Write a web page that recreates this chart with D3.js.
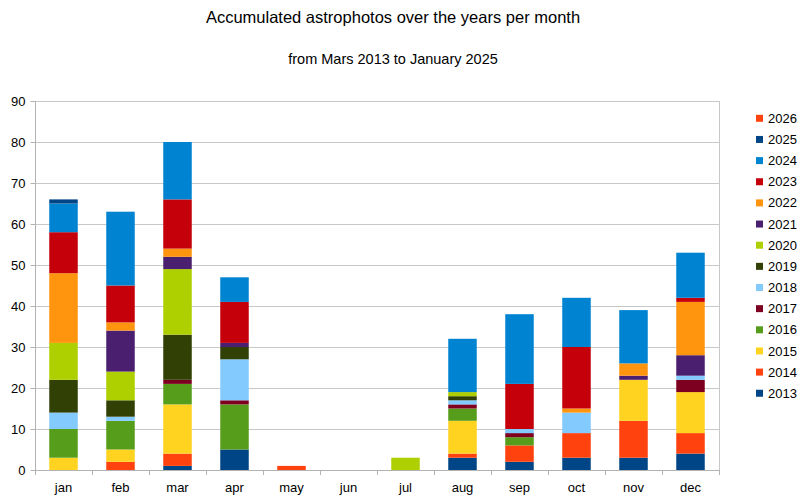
<!DOCTYPE html>
<html><head><meta charset="utf-8">
<script src="https://cdn.jsdelivr.net/npm/d3@7"></script>
<style>body{margin:0;background:#fff}svg{display:block;font-family:"Liberation Sans",Arial,sans-serif}</style>
</head><body>
<svg id="c" width="800" height="504"></svg>
<script>
const months = ["jan","feb","mar","apr","may","jun","jul","aug","sep","oct","nov","dec"];
const years = ["2013","2014","2015","2016","2017","2018","2019","2020","2021","2022","2023","2024","2025","2026"];
const yTicks = [0,10,20,30,40,50,60,70,80,90];
const v2013 = [0,0,1,5,0,0,0,3,2,3,3,4];
const v2014 = [0,2,3,0,1,0,0,1,4,6,9,5];
const v2015 = [3,3,12,0,0,0,0,8,0,0,10,10];
const v2016 = [7,7,5,11,0,0,0,3,2,0,0,0];
const v2017 = [0,0,1,1,0,0,0,1,1,0,0,3];
const v2018 = [4,1,0,10,0,0,0,1,1,5,0,1];
const v2019 = [8,4,11,3,0,0,0,1,0,0,0,0];
const v2020 = [9,7,16,0,0,0,3,1,0,0,0,0];
const v2021 = [0,10,3,1,0,0,0,0,0,0,1,5];
const v2022 = [17,2,2,0,0,0,0,0,0,1,3,13];
const v2023 = [10,9,12,10,0,0,0,0,11,15,0,1];
const v2024 = [7,18,14,6,0,0,0,13,17,12,13,11];
const v2025 = [1,0,0,0,0,0,0,0,0,0,0,0];
const v2026 = [0,0,0,0,0,0,0,0,0,0,0,0];
const seriesValues = [v2013,v2014,v2015,v2016,v2017,v2018,v2019,v2020,v2021,v2022,v2023,v2024,v2025,v2026];
const colors = ["#004586","#ff420e","#ffd320","#579d1c","#7e0021","#83caff","#314004","#aecf00","#4b1f6f","#ff950e","#c5000b","#0084d1","#004586","#ff420e"];

const table = months.map((m,i)=>{const r={month:m}; years.forEach((y,j)=>r[y]=seriesValues[j][i]); return r;});
const svg = d3.select("#c");
const L=35,R=719,T=101,B=470;
const x = d3.scaleBand().domain(months).range([L,R]).paddingInner(0.5).paddingOuter(0.25);
const y = d3.scaleLinear().domain([0,90]).range([B,T]);
const color = d3.scaleOrdinal().domain(years).range(colors);

// gridlines
svg.append("g").selectAll("line").data(yTicks.filter(d=>d>0)).join("line")
  .attr("x1",L).attr("x2",R).attr("y1",d=>y(d)+0.5).attr("y2",d=>y(d)+0.5)
  .attr("stroke","#c8c8c8");
// right border
svg.append("line").attr("x1",R+0.5).attr("x2",R+0.5).attr("y1",T).attr("y2",B).attr("stroke","#c8c8c8");

const stack = d3.stack().keys(years)(table);
svg.append("g").selectAll("g").data(stack).join("g").attr("fill",d=>color(d.key))
  .selectAll("rect").data(d=>d).join("rect")
  .attr("x",d=>x(d.data.month)).attr("width",x.bandwidth())
  .attr("y",d=>y(d[1])).attr("height",d=>y(d[0])-y(d[1]));

// y axis
const ya = svg.append("g").attr("transform",`translate(${L+0.5},0)`)
  .call(d3.axisLeft(y).tickValues(yTicks).tickSize(5).tickPadding(5));
ya.select(".domain").attr("stroke","#b3b3b3").attr("d",`M0,${T}V${B}`);
ya.selectAll(".tick line").attr("stroke","#b3b3b3");
ya.selectAll("text").attr("font-size",13).attr("fill","#000").attr("font-family","Liberation Sans, Arial, sans-serif");

// x axis
const xa = svg.append("g").attr("transform",`translate(0,${B+0.5})`)
  .call(d3.axisBottom(x).tickSize(0).tickPadding(12));
xa.select(".domain").attr("stroke","#b3b3b3").attr("d",`M${L},0H${R}`);
xa.selectAll("text").attr("font-size",13).attr("fill","#000").attr("font-family","Liberation Sans, Arial, sans-serif");
const step = x.step();
svg.append("g").selectAll("line").data(d3.range(months.length+1)).join("line")
  .attr("x1",i=>Math.round(L+i*step)+0.5).attr("x2",i=>Math.round(L+i*step)+0.5)
  .attr("y1",B).attr("y2",B+5).attr("stroke","#b3b3b3");

// titles
svg.append("text").attr("x",393).attr("y",23).attr("text-anchor","middle").attr("font-size",16.5).attr("fill","#000")
  .text("Accumulated astrophotos over the years per month");
svg.append("text").attr("x",393).attr("y",64).attr("text-anchor","middle").attr("font-size",14.5).attr("fill","#000")
  .text("from Mars 2013 to January 2025");

// legend
const legendYears = years.slice().reverse();
const lg = svg.append("g").selectAll("g").data(legendYears).join("g")
  .attr("transform",(d,i)=>`translate(756,${118.3+i*21.15})`);
lg.append("rect").attr("x",0).attr("y",-3.5).attr("width",7).attr("height",7).attr("fill",d=>color(d));
lg.append("text").attr("x",12).attr("y",0).attr("dy","0.35em").attr("font-size",13).attr("fill","#000").text(d=>d);
</script>
</body></html>
